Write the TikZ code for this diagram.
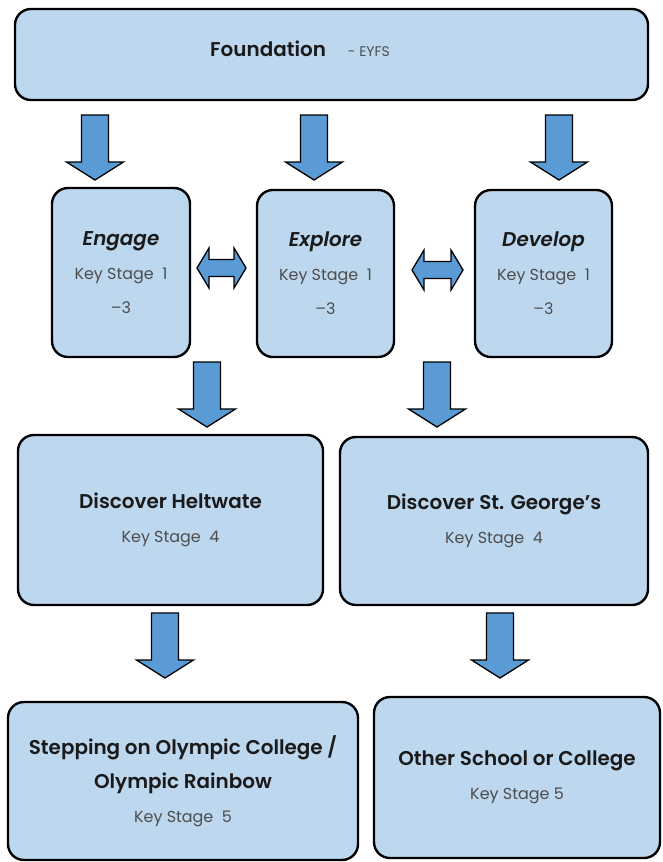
\documentclass[tikz,border=0pt]{standalone}
\usepackage{fontspec}
\setmainfont{Poppins}[BoldFont={Poppins SemiBold}, BoldItalicFont={Poppins SemiBold Italic}]

\definecolor{boxblue}{HTML}{BDD7EE}
\definecolor{arrowblue}{HTML}{5B9BD5}
\definecolor{subgrey}{HTML}{4D4D4D}
\definecolor{titleblack}{HTML}{1A1A1A}

\tikzset{
  stagebox/.style={draw=black, line width=2.4pt, fill=boxblue, rounded corners=16pt,
    align=center, inner sep=0pt, text=subgrey, font=\fontsize{16}{34}\selectfont},
  blockarrow/.style={draw=black, line width=1.3pt, fill=arrowblue, line join=miter}
}
\newcommand{\ttl}[1]{{\fontsize{20}{34}\selectfont\bfseries\color{titleblack}#1}}

\begin{document}
\begin{tikzpicture}[x=1bp, y=-1bp]

\useasboundingbox (0,0) rectangle (663,862);

% Stage boxes
\node[stagebox, minimum width=633bp, minimum height=91bp] (found) at (331.5,54.5) {};
\node[text=titleblack] (foundtxt) at (300,49) {\ttl{Foundation}\hspace{22pt}{\fontsize{14}{16}\selectfont\color{subgrey}- EYFS}};

\node[stagebox, minimum width=138bp, minimum height=169bp] (engage) at (121,272.5) {\ttl{\itshape Engage}\\ Key Stage\ \ 1\\ --3};
\node[stagebox, minimum width=137bp, minimum height=167bp] (explore) at (325.5,273.5) {\ttl{\itshape Explore}\\ Key Stage\ \ 1\\ --3};
\node[stagebox, minimum width=137bp, minimum height=167bp] (develop) at (543.5,273.5) {\ttl{\itshape Develop}\\ Key Stage\ \ 1\\ --3};

\node[stagebox, minimum width=305bp, minimum height=170bp] (heltwate) at (170.5,520) {\ttl{Discover Heltwate}\\ Key Stage\ \ 4};
\node[stagebox, minimum width=308bp, minimum height=168bp] (george) at (494,521) {\ttl{Discover St. George's}\\ Key Stage\ \ 4};

\node[stagebox, minimum width=350bp, minimum height=158bp] (olympic) at (183,781) {\ttl{Stepping on Olympic College /}\\ \ttl{Olympic Rainbow}\\ Key Stage\ \ 5};
\node[stagebox, minimum width=286bp, minimum height=161bp] (other) at (517,777.5) {\ttl{Other School or College}\\ Key Stage 5};

% Down arrows (top centre x, top y)
\foreach \x/\y in {95/115, 314/115, 559/115, 207/362, 437/362, 165/613, 500/613}
  \draw[blockarrow] (\x,\y) ++(-13.5,0) -- ++(27,0) -- ++(0,47) -- ++(15,0)
    -- ++(-28.5,18) -- ++(-28.5,-18) -- ++(15,0) -- cycle;

% Two-way arrows between the key stage 1-3 boxes
\draw[blockarrow] (197,268) -- ++(12,-20) -- ++(0,11.5) -- ++(25,0) -- ++(0,-11.5)
  -- ++(12,20) -- ++(-12,20) -- ++(0,-11.5) -- ++(-25,0) -- ++(0,11.5) -- cycle;
\draw[blockarrow] (412,270) -- ++(12,-20) -- ++(0,11.5) -- ++(27,0) -- ++(0,-11.5)
  -- ++(12,20) -- ++(-12,20) -- ++(0,-11.5) -- ++(-27,0) -- ++(0,11.5) -- cycle;

\end{tikzpicture}
\end{document}
